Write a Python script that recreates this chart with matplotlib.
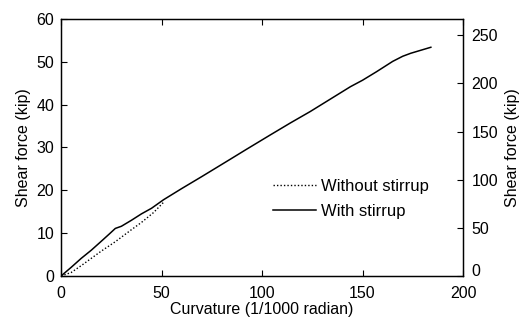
import matplotlib.pyplot as plt

plt.rcParams['font.family'] = ['Liberation Sans', 'DejaVu Sans']
plt.rcParams['font.size'] = 11.5

# with stirrup (curvature 1/1000 rad, shear kip)
with_x = [0, 5, 10, 15, 20, 24, 27, 30, 35, 40, 45, 51, 60, 70, 84, 92, 104, 114, 124, 134, 144, 150, 157, 165, 170, 174, 179, 184]
with_y = [0, 2.0, 4.1, 6.0, 8.1, 9.8, 11.1, 11.6, 13.0, 14.5, 15.8, 17.8, 20.4, 23.2, 27.2, 29.5, 32.9, 35.7, 38.4, 41.3, 44.2, 45.7, 47.7, 50.1, 51.3, 52.0, 52.7, 53.4]

# without stirrup
without_x = [0, 5, 10, 20, 27, 35, 40, 46, 51]
without_y = [0, 0.8, 2.4, 5.8, 8.0, 10.8, 12.5, 14.8, 17.2]

kip_to_kn = 4.448

fig = plt.figure(figsize=(5.22, 3.22), dpi=100)
ax = fig.add_axes([0.117, 0.143, 0.770, 0.798])

ax.plot(without_x, without_y, color='black', linestyle=(0, (1, 1.5)), linewidth=1.0, label='Without stirrup')
ax.plot(with_x, with_y, color='black', linestyle='-', linewidth=1.1, label='With stirrup')

ax.set_xlim(0, 200)
ax.set_ylim(0, 60)
ax.set_xticks([0, 50, 100, 150, 200])
ax.set_yticks([0, 10, 20, 30, 40, 50, 60])
ax.tick_params(direction='in', length=4, width=0.8, top=True, pad=5)
ax.tick_params(axis='x', pad=7)
ax.set_xlabel('Curvature (1/1000 radian)', labelpad=1)
ax.set_ylabel('Shear force (kip)', labelpad=4)

ax2 = ax.twinx()
ax2.set_ylim(0, 60 * kip_to_kn)
ax2.set_yticks([0, 50, 100, 150, 200, 250])
ax2.tick_params(direction='in', length=4, width=0.8, pad=6)
ax2.set_ylabel('Shear force (kip)', labelpad=5)
ax2.get_yticklabels()[0].set_verticalalignment('baseline')

for a in (ax, ax2):
    for s in a.spines.values():
        s.set_linewidth(0.9)

ax.legend(loc='center left', bbox_to_anchor=(0.49, 0.30), frameon=False,
          handlelength=2.6, handletextpad=0.3, labelspacing=0.6, fontsize=12)

fig.savefig('out.png', dpi=100)
